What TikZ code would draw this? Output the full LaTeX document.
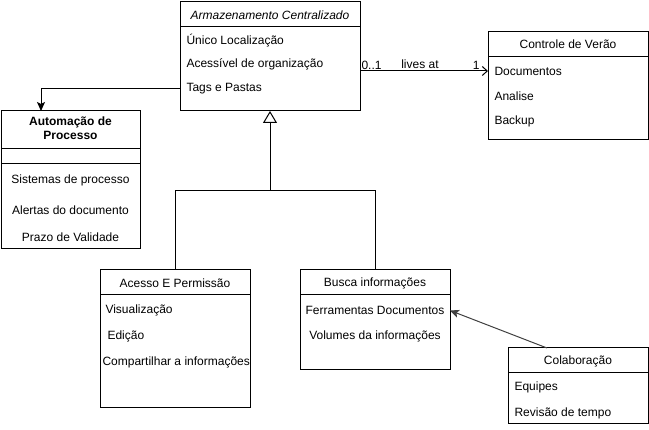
\documentclass[tikz,border=0pt]{standalone}
\usepackage{fontspec}
\setmainfont{Liberation Sans}
\usetikzlibrary{arrows.meta}

\begin{document}
\begin{tikzpicture}[x=1pt, y=-1pt, line width=1pt,
  classbox/.style={draw, rectangle, anchor=north west, inner sep=0pt, outer sep=0pt},
  item/.style={anchor=west, inner sep=0pt, font=\fontsize{12}{14}\selectfont},
  title/.style={inner sep=0pt, font=\fontsize{12}{14}\selectfont},
  lbl/.style={inner sep=1pt, font=\fontsize{12}{14}\selectfont}]
\useasboundingbox (0,0) rectangle (649,430);

\node[classbox, minimum width=180pt, minimum height=109pt] (armazenamento) at (180,2) {};
\draw ([yshift=-25pt]armazenamento.north west) -- ([yshift=-25pt]armazenamento.north east) {};
\node[title, font=\fontsize{12}{14}\selectfont\itshape] (armazenamento title) at (270,15) {Armazenamento Centralizado};
\node[item] (unico) at (186,40.5) {Único Localização};
\node[item] (acessivel) at (186,64.5) {Acessível de organização};
\node[item] (tags) at (186,89) {Tags e Pastas};

\node[classbox, minimum width=160pt, minimum height=108pt] (controle) at (488,32) {};
\draw ([yshift=-25pt]controle.north west) -- ([yshift=-25pt]controle.north east) {};
\node[title] (controle title) at (568,44.5) {Controle de Verão};
\node[item] (documentos) at (494,71) {Documentos};
\node[item] (analise) at (494,96.5) {Analise};
\node[item] (backup) at (494,121.5) {Backup};

\node[classbox, minimum width=139pt, minimum height=138pt] (automacao) at (1,111) {};
\draw ([yshift=-38pt]automacao.north west) -- ([yshift=-38pt]automacao.north east) {};
\draw ([yshift=-53pt]automacao.north west) -- ([yshift=-53pt]automacao.north east) {};
\node[title, align=center, font=\fontsize{12}{14}\selectfont\bfseries] (automacao title) at (70.5,128.5) {Automação de\\Processo};
\node[title] (sistemas) at (70.5,180.5) {Sistemas de processo};
\node[title] (alertas) at (70.5,210.5) {Alertas do documento};
\node[title] (prazo) at (70.5,237.5) {Prazo de Validade};

\node[classbox, minimum width=150pt, minimum height=138pt] (acesso) at (100,270) {};
\draw ([yshift=-25pt]acesso.north west) -- ([yshift=-25pt]acesso.north east) {};
\node[title] (acesso title) at (175,283.5) {Acesso E Permissão};
\node[item] (visualizacao) at (105,310.5) {Visualização};
\node[item] (edicao) at (107,336.5) {Edição};
\node[item] (compartilhar) at (102,362.5) {Compartilhar a informações};

\node[classbox, minimum width=150pt, minimum height=100pt] (busca) at (300,270) {};
\draw ([yshift=-25pt]busca.north west) -- ([yshift=-25pt]busca.north east) {};
\node[title] (busca title) at (375,283.5) {Busca informações};
\node[title] (ferramentas) at (375,310.5) {Ferramentas Documentos};
\node[title] (volumes) at (375,336.5) {Volumes da informações};

\node[classbox, minimum width=140pt, minimum height=76pt] (colaboracao) at (508,348) {};
\draw ([yshift=-25pt]colaboracao.north west) -- ([yshift=-25pt]colaboracao.north east) {};
\node[title] (colaboracao title) at (578,361.5) {Colaboração};
\node[item] (equipes) at (514,387.5) {Equipes};
\node[item] (revisao) at (514,413.5) {Revisão de tempo};

\coordinate (split) at (270,190.5);
\coordinate (automacao in) at ([xshift=-29.5pt]automacao.north);
\coordinate (colaboracao out) at ([xshift=-31pt]colaboracao.north);

\draw[-{Straight Barb[length=5pt, width=9pt]}] (armazenamento.east |- documentos) -- (controle.west |- documentos) {};
\node[lbl, anchor=south west] (mult from) at (armazenamento.east |- documentos) {0..1};
\node[lbl, anchor=south east] (mult to) at ([xshift=-7pt]controle.west |- documentos) {1};
\node[lbl, anchor=south] (lives at) at (420,70) {lives at};

\draw[-{Stealth[length=9pt, width=8pt, inset=2pt]}] (armazenamento.west |- tags) -| (automacao in) {};

\draw[-{Triangle[open, length=12pt, width=14pt]}] (split) -- (armazenamento.south) {};
\draw (acesso.north) |- (split) -| (busca.north) {};

\draw[-{Stealth[length=9pt, width=8pt, inset=2pt]}, color=black!75] (colaboracao out) -- (busca.east |- ferramentas) {};

\end{tikzpicture}
\end{document}
